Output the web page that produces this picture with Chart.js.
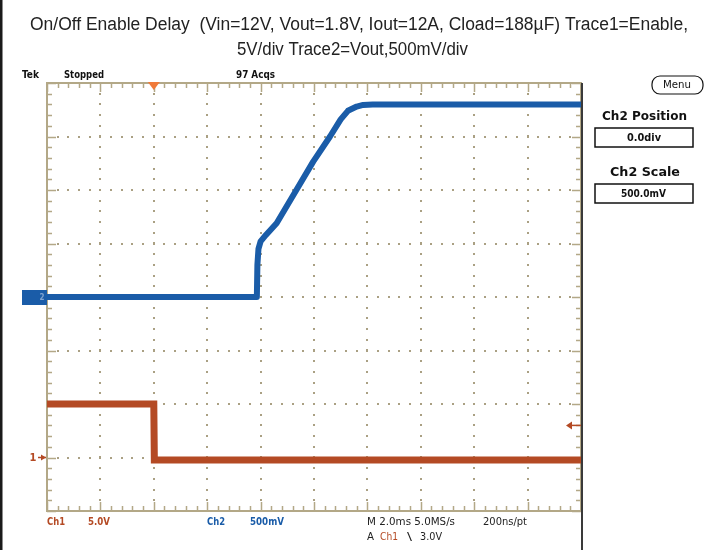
<!DOCTYPE html>
<html><head><meta charset="utf-8">
<script src="https://cdn.jsdelivr.net/npm/chart.js@4"></script>
<style>html,body{margin:0;padding:0;background:#fff;}#wrap{width:715px;height:550px;position:relative;}</style>
</head><body><div id="wrap"><canvas id="c" width="715" height="550"></canvas></div>
<script>
// Time in ms relative to trigger (2 ms/div, 10 div)
const timeMin = -4, timeMax = 16;
// Trace 2 = Vout (500 mV/div, position 0.0 div)
const ch2Time = [-4, 3.86, 3.88, 3.92, 4.0, 4.2, 4.6, 5.34, 5.97, 6.60, 7.0, 7.27, 7.6, 7.84, 8.2, 16];
const ch2Volts = [0, 0, 0.30, 0.45, 0.52, 0.58, 0.69, 1.0, 1.265, 1.50, 1.66, 1.74, 1.78, 1.795, 1.8, 1.8];
// Trace 1 = Enable (5 V/div, ground 1 div above bottom)
const ch1Time = [-4, 0, 0.02, 16];
const ch1Volts = [5.0, 5.0, -0.23, -0.23];
const triggerLevel = 3.0;
const title1 = "On/Off Enable Delay  (Vin=12V, Vout=1.8V, Iout=12A, Cload=188µF) Trace1=Enable,";
const title2 = "5V/div Trace2=Vout,500mV/div";

const BLUE = '#1a5ca8', ORANGE = '#b44a24', GRAT = '#b3a887';

const scopePlugin = {
  id: 'scope',
  beforeDatasetsDraw(chart) {
    const ctx = chart.ctx, a = chart.chartArea;
    const xs = chart.scales.x, y2 = chart.scales.y2;
    ctx.save();
    // dotted graticule
    ctx.fillStyle = '#aaa083';
    for (let t = timeMin + 2; t < timeMax; t += 2) {
      const px = Math.round(xs.getPixelForValue(t));
      for (let v = -2; v <= 2.0001; v += 0.1) {
        const py = Math.round(y2.getPixelForValue(v));
        ctx.fillRect(px - 1, py - 1, 2, 2);
      }
    }
    for (let v = -1.5; v < 2; v += 0.5) {
      const py = Math.round(y2.getPixelForValue(v));
      for (let t = timeMin; t <= timeMax + 0.001; t += 0.4) {
        const px = Math.round(xs.getPixelForValue(t));
        ctx.fillRect(px - 1, py - 1, 2, 2);
      }
    }
    // border
    ctx.strokeStyle = GRAT; ctx.lineWidth = 2;
    ctx.strokeRect(a.left, a.top, a.right - a.left, a.bottom - a.top);
    // ticks on border
    ctx.lineWidth = 1.5;
    ctx.beginPath();
    for (let i = 0; i <= 50; i++) {
      const t = timeMin + i * 0.4;
      const px = Math.round(xs.getPixelForValue(t)) + 0.5;
      const L = (i % 5 === 0) ? 9 : 5;
      ctx.moveTo(px, a.top); ctx.lineTo(px, a.top + L);
      ctx.moveTo(px, a.bottom); ctx.lineTo(px, a.bottom - L);
    }
    for (let i = 0; i <= 40; i++) {
      const v = -2 + i * 0.1;
      const py = Math.round(y2.getPixelForValue(v)) + 0.5;
      const L = (i % 5 === 0) ? 9 : 5;
      ctx.moveTo(a.left, py); ctx.lineTo(a.left + L, py);
      ctx.moveTo(a.right, py); ctx.lineTo(a.right - L, py);
    }
    ctx.stroke();
    ctx.restore();
  },
  afterDraw(chart) {
    const ctx = chart.ctx, a = chart.chartArea;
    const xs = chart.scales.x, y1 = chart.scales.y1, y2 = chart.scales.y2;
    ctx.save();
    // outer dark frame lines
    ctx.fillStyle = '#1a1a1a';
    ctx.fillRect(0, 0, 2.5, 550);
    ctx.fillStyle = '#3a3a3a';
    ctx.fillRect(a.right, a.top, 2, 550 - a.top);
    // title
    ctx.fillStyle = '#222';
    ctx.textBaseline = 'alphabetic';
    ctx.textAlign = 'left';
    ctx.font = '18px "Liberation Sans Narrow", "Liberation Sans", sans-serif';
    const fit = (s, x, y, w) => {
      const m = ctx.measureText(s).width;
      ctx.save(); ctx.translate(x, y); ctx.scale(w / m, 1); ctx.fillText(s, 0, 0); ctx.restore();
    };
    fit(title1, 30, 30, 658);
    fit(title2, 237, 55, 231);
    // scope header
    ctx.font = 'bold 10px "DejaVu Sans Condensed", "Liberation Sans Narrow", sans-serif';
    ctx.fillStyle = '#111';
    ctx.textBaseline = 'middle';
    fit('Tek', 22, 75, 17);
    fit('Stopped', 64, 75, 40);
    fit('97 Acqs', 236, 75, 39);
    // trigger position marker
    const tx = xs.getPixelForValue(0);
    ctx.fillStyle = '#f07a3a';
    ctx.beginPath(); ctx.moveTo(tx - 6, a.top - 1); ctx.lineTo(tx + 6, a.top - 1); ctx.lineTo(tx, a.top + 7); ctx.closePath(); ctx.fill();
    // trigger level arrow on right
    const ly = y1.getPixelForValue(triggerLevel);
    ctx.strokeStyle = ORANGE; ctx.fillStyle = ORANGE; ctx.lineWidth = 1.5;
    ctx.beginPath(); ctx.moveTo(a.right - 10, ly); ctx.lineTo(a.right, ly); ctx.stroke();
    ctx.beginPath(); ctx.moveTo(a.right - 15, ly); ctx.lineTo(a.right - 9, ly - 4); ctx.lineTo(a.right - 9, ly + 4); ctx.closePath(); ctx.fill();
    // ch1 ground marker
    const g1 = y1.getPixelForValue(0);
    ctx.font = 'bold 11px "DejaVu Sans Condensed", sans-serif';
    ctx.textAlign = 'center';
    ctx.fillText('1', 33, g1 + 1);
    ctx.beginPath(); ctx.moveTo(38, g1); ctx.lineTo(46, g1); ctx.stroke();
    ctx.beginPath(); ctx.moveTo(41, g1 - 3); ctx.lineTo(46, g1); ctx.lineTo(41, g1 + 3); ctx.closePath(); ctx.fill();
    // ch2 ground marker
    const g2 = y2.getPixelForValue(0);
    ctx.fillStyle = BLUE;
    ctx.fillRect(22, g2 - 7, 25, 15);
    ctx.fillStyle = '#7fa3d0';
    ctx.font = 'bold 8px "DejaVu Sans Condensed", sans-serif';
    ctx.fillText('2', 42, g2 + 1);
    // bottom readouts
    ctx.textAlign = 'left';
    ctx.font = 'bold 10px "DejaVu Sans Condensed", sans-serif';
    ctx.fillStyle = ORANGE;
    fit('Ch1', 47, 522, 18);
    fit('5.0V', 88, 522, 22);
    ctx.fillStyle = BLUE;
    fit('Ch2', 207, 522, 18);
    fit('500mV', 250, 522, 34);
    ctx.fillStyle = '#222';
    ctx.font = '10px "DejaVu Sans Condensed", sans-serif';
    fit('M 2.0ms 5.0MS/s', 367, 522, 88);
    fit('200ns/pt', 483, 522, 44);
    fit('A', 367, 537, 7);
    ctx.fillStyle = ORANGE;
    fit('Ch1', 380, 537, 18);
    ctx.fillStyle = '#222';
    fit('\\', 407, 537, 5);
    fit('3.0V', 420, 537, 22);
    // right panel
    ctx.strokeStyle = '#111'; ctx.lineWidth = 1.2;
    ctx.beginPath();
    if (ctx.roundRect) ctx.roundRect(652, 76, 51, 18, 8); else ctx.rect(652, 76, 51, 18);
    ctx.stroke();
    ctx.fillStyle = '#111';
    ctx.textAlign = 'left';
    fit('Menu', 663, 85, 28);
    ctx.font = 'bold 12px "DejaVu Sans Condensed", sans-serif';
    fit('Ch2 Position', 602, 117, 85);
    fit('Ch2 Scale', 610, 173, 70);
    ctx.lineWidth = 1.5;
    ctx.strokeRect(595, 128, 98, 19);
    ctx.strokeRect(595, 184, 98, 19);
    ctx.font = 'bold 10px "DejaVu Sans Condensed", sans-serif';
    fit('0.0div', 627, 138, 34);
    fit('500.0mV', 621, 194, 45);
    ctx.restore();
  }
};

const toPts = (xs, ys) => xs.map((x, i) => ({x, y: ys[i]}));

new Chart(document.getElementById('c'), {
  type: 'scatter',
  data: {
    datasets: [
      { label: 'Vout', data: toPts(ch2Time, ch2Volts), yAxisID: 'y2', showLine: true,
        borderColor: BLUE, borderWidth: 6, pointRadius: 0, tension: 0, borderJoinStyle: 'round' },
      { label: 'Enable', data: toPts(ch1Time, ch1Volts), yAxisID: 'y1', showLine: true,
        borderColor: ORANGE, borderWidth: 7, pointRadius: 0, tension: 0 }
    ]
  },
  options: {
    responsive: false, animation: false, devicePixelRatio: 1,
    layout: { padding: { left: 47, right: 134, top: 83, bottom: 39 } },
    plugins: { legend: { display: false }, tooltip: { enabled: false }, title: { display: false } },
    scales: {
      x: { type: 'linear', min: timeMin, max: timeMax, display: false },
      y1: { type: 'linear', min: -5, max: 35, display: false },
      y2: { type: 'linear', min: -2, max: 2, display: false }
    },
    clip: false
  },
  plugins: [scopePlugin]
});
</script></body></html>
